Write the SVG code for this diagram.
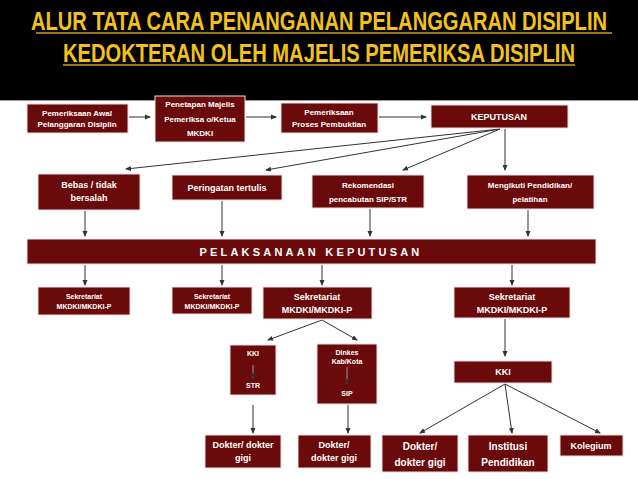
<svg xmlns="http://www.w3.org/2000/svg" width="638" height="479" viewBox="0 0 638 479">
<style>
.b{fill:#6a0a0a;stroke:#e8e0e0;stroke-width:1}
.t{font-family:"Liberation Sans",Arial,sans-serif;font-weight:bold;fill:#fff;text-anchor:middle}
.s{font-size:8px}.m{font-size:9px}.l{font-size:11px}
.c line{stroke:#333;stroke-width:1;marker-end:url(#a)}
.h{font-family:"Liberation Sans",Arial,sans-serif;font-weight:bold;fill:#f2c21a;font-size:25px;text-anchor:middle}
</style>
<defs><marker id="a" markerWidth="6" markerHeight="6" refX="5" refY="3" orient="auto"><path d="M0,0.5L6,3L0,5.5z" fill="#333"/></marker></defs>
<rect width="638" height="479" fill="#fff"/>
<rect width="638" height="100" fill="#000"/>
<line x1="0" y1="100.5" x2="638" y2="100.5" stroke="#999"/>
<g id="title">
<text class="h" x="319" y="30" textLength="576" lengthAdjust="spacingAndGlyphs">ALUR TATA CARA PENANGANAN PELANGGARAN DISIPLIN</text>
<line x1="36" y1="33" x2="612" y2="33" stroke="#c9a020" stroke-width="1.5"/>
<text class="h" x="319" y="62" textLength="512" lengthAdjust="spacingAndGlyphs">KEDOKTERAN OLEH MAJELIS PEMERIKSA DISIPLIN</text>
<line x1="63" y1="65" x2="575" y2="65" stroke="#c9a020" stroke-width="1.5"/>
</g>
<g class="c">
<line x1="129" y1="117" x2="150" y2="117"/>
<line x1="246" y1="117" x2="276" y2="117"/>
<line x1="379" y1="117" x2="426" y2="117"/>
<line x1="500" y1="129" x2="126" y2="169"/>
<line x1="500" y1="129" x2="266" y2="170"/>
<line x1="500" y1="129" x2="403" y2="170"/>
<line x1="505" y1="129" x2="505" y2="170"/>
<line x1="85" y1="211" x2="85" y2="236"/>
<line x1="222" y1="201" x2="222" y2="236"/>
<line x1="370" y1="209" x2="370" y2="236"/>
<line x1="528" y1="210" x2="528" y2="236"/>
<line x1="85" y1="265" x2="85" y2="285"/>
<line x1="222" y1="265" x2="222" y2="285"/>
<line x1="322" y1="265" x2="322" y2="285"/>
<line x1="512" y1="265" x2="512" y2="285"/>
<line x1="322" y1="320" x2="268" y2="340"/>
<line x1="322" y1="320" x2="357" y2="340"/>
<line x1="505" y1="319" x2="505" y2="356"/>
<line x1="253" y1="405" x2="253" y2="433" />
<line x1="348" y1="405" x2="348" y2="433"/>
<line x1="505" y1="384" x2="420" y2="433"/>
<line x1="505" y1="384" x2="512" y2="433"/>
<line x1="505" y1="384" x2="600" y2="433"/>
</g>
<g id="n1"><rect class="b" x="27" y="104" width="101" height="29"/><text class="t s" x="77" y="116">Pemeriksaan Awal</text><text class="t s" x="77" y="127">Pelanggaran Disiplin</text></g>
<g id="n2"><rect class="b" x="155" y="96" width="90" height="46"/><text class="t s" x="200" y="107">Penetapan Majelis</text><text class="t s" x="200" y="122">Pemeriksa o/Ketua</text><text class="t s" x="200" y="136">MKDKI</text></g>
<g id="n3"><rect class="b" x="281" y="103" width="97" height="30"/><text class="t s" x="329" y="115">Pemeriksaan</text><text class="t s" x="329" y="127">Proses Pembuktian</text></g>
<g id="n4"><rect class="b" x="431" y="105" width="137" height="23"/><text class="t m" x="499" y="120">KEPUTUSAN</text></g>
<g id="n5"><rect class="b" x="38" y="174" width="102" height="36"/><text class="t m" x="89" y="188">Bebas / tidak</text><text class="t m" x="89" y="201">bersalah</text></g>
<g id="n6"><rect class="b" x="172" y="175" width="110" height="25"/><text class="t m" x="227" y="191">Peringatan tertulis</text></g>
<g id="n7"><rect class="b" x="312" y="175" width="112" height="33"/><text class="t s" x="368" y="188">Rekomendasi</text><text class="t s" x="368" y="202">pencabutan SIP/STR</text></g>
<g id="n8"><rect class="b" x="467" y="175" width="127" height="34"/><text class="t s" x="530" y="188">Mengikuti Pendidikan/</text><text class="t s" x="530" y="202">pelatihan</text></g>
<g id="n9"><rect class="b" x="27" y="239" width="569" height="25"/><text class="t l" x="311" y="256" letter-spacing="3.2">PELAKSANAAN KEPUTUSAN</text></g>
<g id="n10"><rect class="b" x="38" y="287" width="92" height="28"/><text class="t" font-size="7" x="84" y="299">Sekretariat</text><text class="t" font-size="7" x="84" y="309">MKDKI/MKDKI-P</text></g>
<g id="n11"><rect class="b" x="172" y="287" width="80" height="27"/><text class="t" font-size="7" x="212" y="299">Sekretariat</text><text class="t" font-size="7" x="212" y="309">MKDKI/MKDKI-P</text></g>
<g id="n12"><rect class="b" x="263" y="287" width="109" height="32"/><text class="t m" x="317" y="300">Sekretariat</text><text class="t m" x="317" y="313">MKDKI/MKDKI-P</text></g>
<g id="n13"><rect class="b" x="454" y="287" width="116" height="31"/><text class="t m" x="512" y="300">Sekretariat</text><text class="t m" x="512" y="313">MKDKI/MKDKI-P</text></g>
<g id="n14"><rect class="b" x="230" y="345" width="46" height="50"/><text class="t" font-size="7" x="253" y="356">KKI</text><line x1="253" y1="365" x2="253" y2="378" stroke="#999" marker-end="url(#a)"/><text class="t" font-size="7" x="253" y="388">STR</text></g>
<g id="n15"><rect class="b" x="317" y="344" width="60" height="60"/><text class="t" font-size="7" x="347" y="355">Dinkes</text><text class="t" font-size="7" x="347" y="364">Kab/Kota</text><line x1="347" y1="367" x2="347" y2="384" stroke="#999" marker-end="url(#a)"/><text class="t" font-size="7" x="347" y="396">SIP</text></g>
<g id="n16"><rect class="b" x="454" y="361" width="98" height="22"/><text class="t m" x="503" y="375">KKI</text></g>
<g id="n17"><rect class="b" x="205" y="435" width="76" height="33"/><text class="t m" x="243" y="448">Dokter/ dokter</text><text class="t m" x="243" y="461">gigi</text></g>
<g id="n18"><rect class="b" x="298" y="435" width="73" height="33"/><text class="t m" x="334" y="448">Dokter/</text><text class="t m" x="334" y="461">dokter gigi</text></g>
<g id="n19"><rect class="b" x="382" y="435" width="76" height="37"/><text class="t" font-size="10" x="420" y="450">Dokter/</text><text class="t" font-size="10" x="420" y="466">dokter gigi</text></g>
<g id="n20"><rect class="b" x="468" y="435" width="80" height="37"/><text class="t" font-size="10" x="508" y="450">Institusi</text><text class="t" font-size="10" x="508" y="466">Pendidikan</text></g>
<g id="n21"><rect class="b" x="560" y="435" width="63" height="21"/><text class="t m" x="591" y="449">Kolegium</text></g>
</svg>
